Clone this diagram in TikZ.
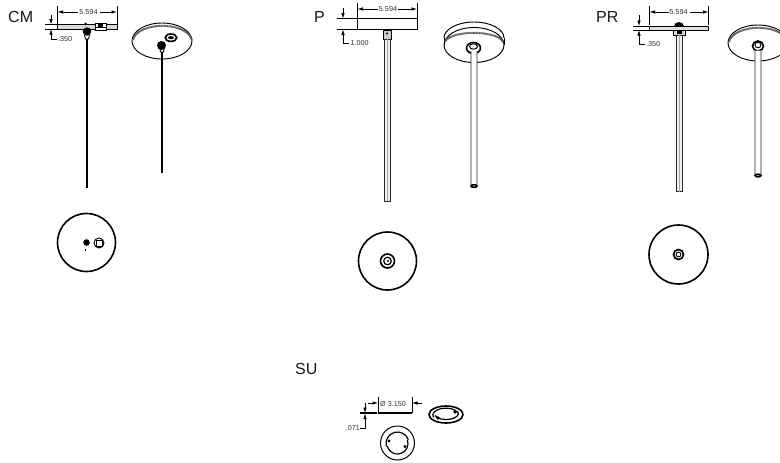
\documentclass[tikz,border=0pt]{standalone}
\usepackage{fontspec}
\setmainfont{Liberation Sans}
\usetikzlibrary{arrows.meta}
\tikzset{
 x=1pt,y=-1pt,
 ln/.style={line width=0.95pt,black},
 thick ln/.style={line width=1.6pt,black},
 dim/.style={line width=0.65pt,black},
 arr/.style={dim,-{Latex[length=5.5pt,width=3.5pt]}},
 tubeln/.style={line width=0.9pt,black!85},
 band/.style={line width=2pt,black!65,dash pattern=on 0.7pt off 0.4pt},
 lbl/.style={font=\fontsize{16}{16}\selectfont,inner sep=0pt,anchor=base west,text=black!90},
 dimtxt/.style={font=\fontsize{7.2}{7.2}\selectfont,inner sep=0pt,text=black!80},
}
\begin{document}
\begin{tikzpicture}
\useasboundingbox (0,0) rectangle (780,463);
\clip (0,0) rectangle (780,463);
% labels
\node[lbl] (lcm) at (8,23) {CM};
\node[lbl] (lp) at (314,23) {P};
\node[lbl] (lpr) at (596,23) {PR};
\node[lbl] (lsu) at (295,374) {SU};
% ===== CM =====
\draw[dim] (57.5,6)--(57.5,25) (117,6)--(117,25);
\draw[arr] (78,12)--(57.5,12);
\draw[arr] (100,12)--(117,12);
\node[dimtxt] (t1) at (88.5,12) {5.594};
\draw[dim] (45,24.5)--(57,24.5) (45,29)--(57,29);
\draw[arr] (51,15)--(51,24.5);
\draw[arr] (57,39.5)--(51,39.5)--(51,29);
\node[dimtxt,anchor=west] (t2) at (58,39.5) {.350};
\draw[ln,fill=black!15] (57.5,24.5) rectangle (117,29);
\draw[ln,fill=white] (95,23) rectangle (106,30.5);
\fill (98,24) rectangle (103,27);
\draw[dim] (95,27)--(106,27);
\fill (85.5,24) circle (1.5);
\fill (87,31.5) circle (4.2);
\draw[ln] (84.5,35) -- (85.5,39) -- (88.5,39) -- (89.5,35);
\draw[line width=1.5pt] (87,39)--(87,188);
% CM perspective
\draw[ln] (162,41) ellipse (30 and 18);
\draw[band] (133,40) arc[start angle=185,end angle=355,x radius=29.5,y radius=15.5];
\draw[thick ln] (171,37.7) ellipse (5.8 and 3.7);
\fill (171,37.7) ellipse (3 and 1.6);
\fill (161.5,45.5) circle (4.5);
\draw[ln] (160,49) -- (160.5,52) -- (163.5,52) -- (164,49);
\draw[line width=1.4pt] (162,52)--(162,173);
% CM plan
\draw[thick ln] (86.5,242.5) circle (29);
\fill (86.5,242.5) circle (3.3);
\draw[ln] (99,243) circle (5);
\draw[ln] (96,240.5) rectangle (102,246);
\draw[dim] (85,248.5)--(85,250.5);
% ===== P =====
\draw[dim] (357.5,3)--(357.5,18) (417,3)--(417,18);
\draw[arr] (378,9)--(357.5,9);
\draw[arr] (398,9)--(417,9);
\node[dimtxt] (t3) at (388,9) {5.594};
\draw[dim] (337,18.5)--(357,18.5) (337,29.5)--(357,29.5);
\draw[arr] (343,8)--(343,18.5);
\draw[arr] (349,43)--(343,43)--(343,29.5);
\node[dimtxt,anchor=west] (t4) at (350.5,43) {1.000};
\draw[ln] (357.5,18.5) rectangle (417,29.5);
\draw[ln,fill=black!20] (383,30) rectangle (391,39);
\fill (387,33.5) circle (1.2);
\draw[tubeln,fill=black!5] (384.5,39) rectangle (390.5,201);
\draw[dim,black!35] (387.5,39)--(387.5,201);
% P perspective
\draw[ln] (444,38) arc[start angle=180,end angle=360,x radius=30,y radius=16];
\draw[ln] (444,38)--(444,45) (504,38)--(504,45);
\draw[ln] (474,45) ellipse (30 and 17.5);
\draw[band] (445,42) arc[start angle=185,end angle=355,x radius=29,y radius=10];
\draw[thick ln,fill=white] (473.5,48) ellipse (7 and 5.5);
\draw[ln] (473.5,46.5) ellipse (4 and 2.7);
\draw[tubeln,fill=white] (471,51) -- (471,186) arc[start angle=180,end angle=0,x radius=3,y radius=1.5] -- (477,51);
\draw[thick ln] (474,186) ellipse (3 and 1.3);
% P plan
\draw[thick ln] (387.5,261) circle (29);
\draw[line width=1.6pt] (387.5,261) circle (7);
\draw[line width=1.2pt] (387.5,261) circle (3.8);
\fill (388,261) circle (1.2);
% ===== PR =====
\draw[dim] (649.5,6)--(649.5,25) (708.5,6)--(708.5,25);
\draw[arr] (669,12)--(649.5,12);
\draw[arr] (690,12)--(708.5,12);
\node[dimtxt] (t5) at (678.5,12) {5.594};
\draw[dim] (633,26)--(649,26) (633,30)--(649,30);
\draw[arr] (639,15)--(639,26);
\draw[arr] (645,44)--(639,44)--(639,30);
\node[dimtxt,anchor=west] (t6) at (646,44) {.350};
\draw[ln,fill=black!12] (649.5,26) rectangle (708.5,30);
\fill (674,26.5) arc[start angle=180,end angle=360,x radius=5,y radius=4.5] -- cycle;
\draw[ln,fill=black!15] (673.5,30) rectangle (685,35);
\fill (677,30.5) rectangle (682,34);
\draw[tubeln,fill=black!5] (676,35) rectangle (682,191.5);
\draw[dim,black!35] (679,35)--(679,191.5);
% PR perspective
\draw[ln] (758,43) ellipse (30 and 18);
\draw[band] (729,42) arc[start angle=185,end angle=355,x radius=29.5,y radius=15.5];
\draw[thick ln,fill=white] (758,46) ellipse (5.5 and 5);
\draw[ln] (758,45) ellipse (3 and 2.8);
\draw[tubeln,fill=white] (755,50.5) -- (755,175.5) arc[start angle=180,end angle=0,x radius=3,y radius=1.5] -- (761,50.5);
\draw[thick ln] (758,175.5) ellipse (3 and 1.3);
% PR plan
\draw[thick ln] (678.5,254.5) circle (29.5);
\draw[line width=1.7pt] (678.5,254.5) circle (5);
\draw[line width=0.9pt] (678.5,254.5) circle (2.4);
% ===== SU =====
\draw[dim] (378,397)--(378,413) (412,397)--(412,413);
\draw[line width=1.1pt] (378,413)--(412,413);
\draw[arr] (368,403)--(378,403);
\draw[arr] (422,403)--(412,403);
\node[dimtxt,anchor=west] (t7) at (380,404) {Ø 3.150};
\draw[line width=1.1pt] (360,413)--(377,413);
\draw[arr] (365,403)--(365,413);
\draw[arr] (360,428)--(365,428)--(365,413.6);
\node[dimtxt,anchor=east] (t8) at (360,428) {.071};
\draw[thick ln] (446,414.5) ellipse (17 and 8.5);
\draw[line width=1.2pt] (433.6,417.5) arc[start angle=160,end angle=340,x radius=13,y radius=7];
\draw[line width=1.2pt] (457.6,411.5) arc[start angle=-20,end angle=160,x radius=12,y radius=6];
\fill (438,418) circle (1.8) (455,412) circle (1.8);
\draw[line width=1pt] (397.5,443) circle (17);
\draw[line width=1.2pt] ([shift={(166:11.5)}]397.5,443.5) arc[start angle=166,end angle=340,radius=11.5];
\draw[line width=1.2pt] ([shift={(-20:10.5)}]397.5,443.5) arc[start angle=-20,end angle=166,radius=10.5];
\fill (389,441) circle (1.6) (405,446.5) circle (1.6);
\end{tikzpicture}
\end{document}
